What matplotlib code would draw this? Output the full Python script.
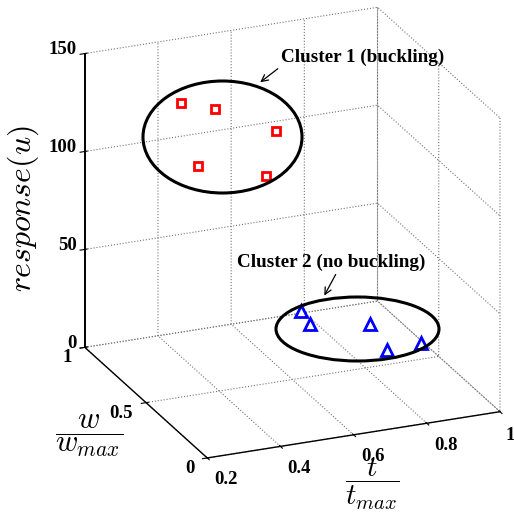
import matplotlib
matplotlib.use("Agg")
import matplotlib.pyplot as plt
from matplotlib.patches import Ellipse, FancyArrowPatch
from matplotlib.ticker import NullFormatter

# cluster 1: buckling cases
t_buck = [0.449, 0.538, 0.645, 0.450, 0.558]
w_buck = [0.955, 0.943, 0.772, 0.823, 0.590]
u_buck = [120, 115, 110, 95, 100]

# cluster 2: no buckling
t_nobuck = [0.781, 0.768, 0.909, 0.881, 0.979]
w_nobuck = [0.970, 0.861, 0.789, 0.571, 0.583]
u_nobuck = [3, 3, 3, 3, 3]

t_ticks = [0.2, 0.4, 0.6, 0.8, 1]
t_labels = ['0.2', '0.4', '0.6', '0.8', '1']
w_ticks = [0, 0.5, 1]
w_labels = ['0', '0.5', '1']
u_ticks = [0, 50, 100, 150]
u_labels = ['0', '50', '100', '150']

plt.rcParams['grid.linestyle'] = ':'
plt.rcParams['grid.color'] = '0.45'
plt.rcParams['grid.linewidth'] = 0.8
plt.rcParams['mathtext.fontset'] = 'cm'

W, H = 514, 513
fig = plt.figure(figsize=(W / 100, H / 100), dpi=100)
ax = fig.add_axes([0.0348, 0.0125, 1.04, 1.04], projection='3d')
ax.set_proj_type('ortho')
ax.set_box_aspect((1, 1, 1))
ax.view_init(elev=22.2, azim=-112.7)

ax.plot(t_buck, w_buck, u_buck, linestyle='none', marker='s', ms=6,
        mfc='white', mec='red', mew=2)
ax.plot(t_nobuck, w_nobuck, u_nobuck, linestyle='none', marker='^', ms=8,
        mfc='white', mec='blue', mew=2)

ax.set_xlim(0.2, 1)
ax.set_ylim(0, 1)
ax.set_zlim(0, 150)
ax.set_xticks(t_ticks)
ax.set_yticks(w_ticks)
ax.set_zticks(u_ticks)
for axis in (ax.xaxis, ax.yaxis, ax.zaxis):
    axis.set_major_formatter(NullFormatter())
    axis.set_tick_params(labelbottom=False)
    axis.pane.set_fill(False)
    axis.pane.set_edgecolor('none')
    axis.line.set_color('black')
    axis.line.set_linewidth(1.0)
ax.zaxis.line.set_linewidth(1.4)

# tick labels placed next to each axis in data space
tick_font = dict(family='Liberation Serif', weight='bold', fontsize=13.5)
for t, s in zip(t_ticks, t_labels):
    ax.text(min(t, 0.975), -0.155, -2.5, s, ha='center', va='center', **tick_font)
for w, s in zip(w_ticks, w_labels):
    ax.text(0.2 - 0.035, w, 0, s, ha='right', va='top', **tick_font)
for u, s in zip(u_ticks, u_labels):
    ax.text(0.2, 1.065, u - 1.5, s, ha='right', va='center', **tick_font)

def px(x, y):
    return x / W, 1 - y / H

# axis titles
fig.text(*px(23, 209), '$response(u)$', fontsize=23, rotation=90,
         ha='center', va='center')
fig.text(*px(89.5, 436), r'$\dfrac{w}{w_{max}}$', fontsize=22,
         ha='center', va='center')
fig.text(*px(372.5, 484), r'$\dfrac{t}{t_{max}}$', fontsize=21,
         ha='center', va='center')

# cluster outlines and callouts
for cx, cy, ew, eh in [(222.5, 137, 159, 112), (357.5, 329, 163, 64)]:
    fig.patches.append(Ellipse(px(cx, cy), ew / W, eh / H, fill=False,
                               ec='black', lw=2.2, transform=fig.transFigure))

note_font = dict(family='Liberation Serif', weight='bold', fontsize=13.8)
fig.text(*px(281, 57), 'Cluster 1 (buckling)', va='center', ha='left', **note_font)
fig.text(*px(237, 262), 'Cluster 2 (no buckling)', va='center', ha='left', **note_font)
for (x0, y0), (x1, y1) in [((280, 67), (258, 84)), ((337, 272), (323, 298))]:
    fig.add_artist(FancyArrowPatch(
        px(x0, y0), px(x1, y1), transform=fig.transFigure,
        arrowstyle='->', mutation_scale=12, lw=0.9, color='black'))

fig.savefig('out.png', dpi=100)
